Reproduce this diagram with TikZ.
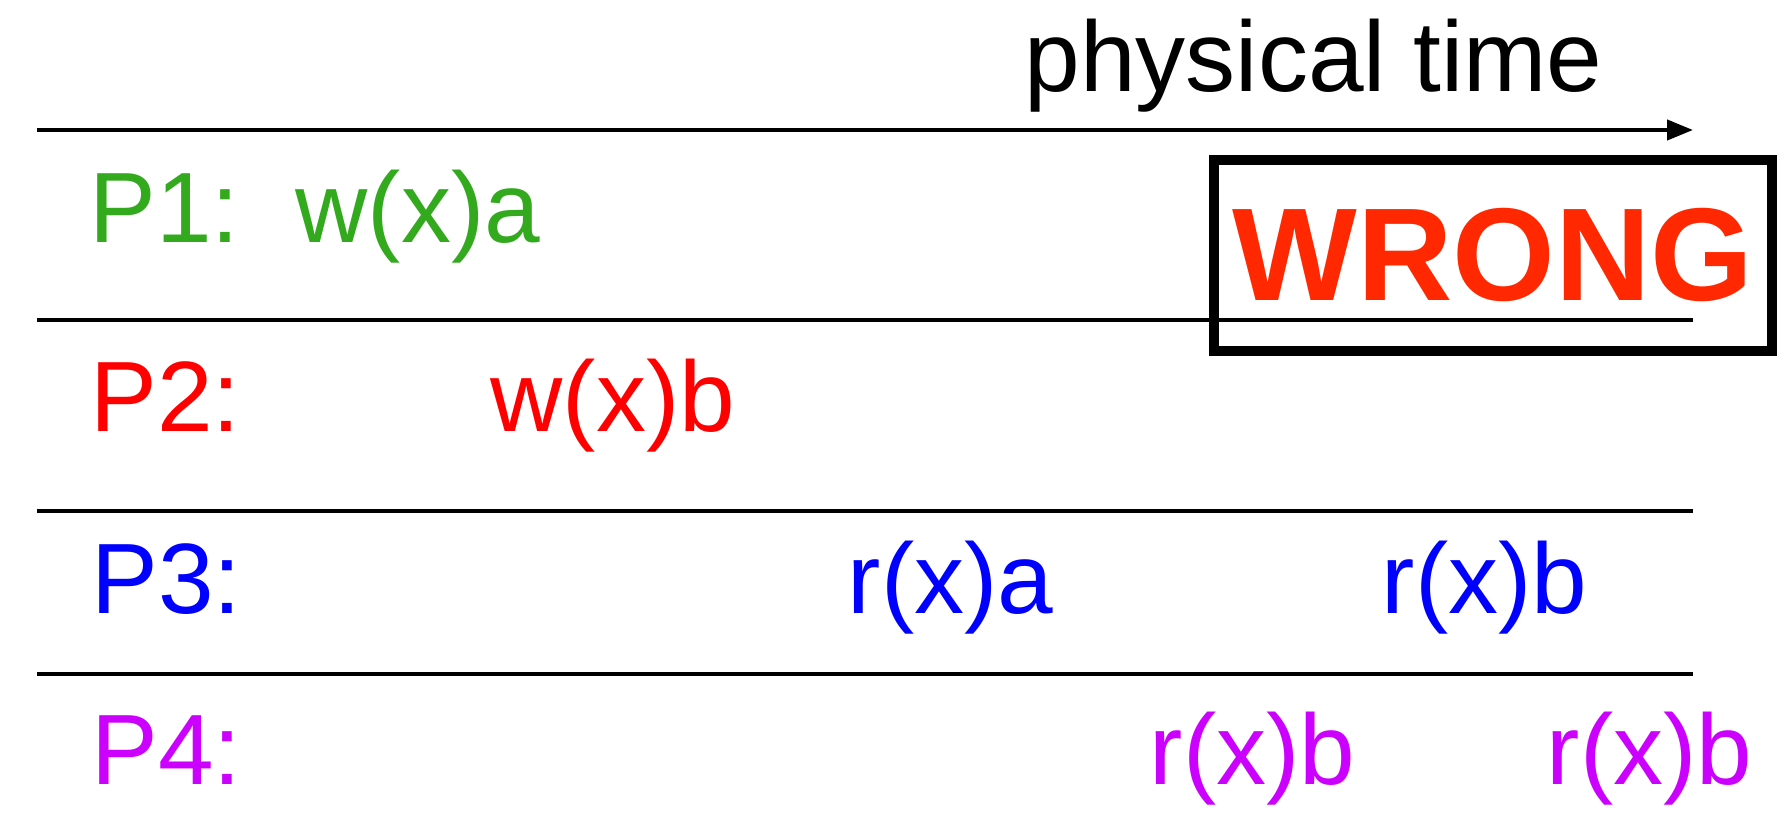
\documentclass[tikz,border=0pt]{standalone}
\usepackage{fontspec}
\setmainfont{Liberation Sans}
\usetikzlibrary{arrows.meta}

\definecolor{pgreen}{RGB}{51,170,30}
\definecolor{pred}{RGB}{255,0,0}
\definecolor{pblue}{RGB}{0,0,255}
\definecolor{ppurple}{RGB}{204,0,255}
\definecolor{wrongred}{RGB}{255,40,0}

\tikzset{
    op/.style={anchor=base west, inner sep=0pt, font=\fontsize{28.45}{34}\selectfont},
    sep/.style={line width=1.2pt}
}

\begin{document}
\begin{tikzpicture}
        \useasboundingbox (0,0) rectangle (17.77,8.28);

        \draw[sep, -{Triangle[length=2.6mm, width=2mm]}] (0.37,6.98) -- (16.93,6.98);
        \draw[sep] (0.37,5.08) -- (16.93,5.08);
        \draw[sep] (0.37,3.17) -- (16.93,3.17);
        \draw[sep] (0.37,1.54) -- (16.93,1.54);

        \node[op] (time) at (10.24,7.36) {physical time};

        \node[op, pgreen] (p1) at (0.89,5.85) {P1:};
        \node[op, pgreen] (p1w) at (2.95,5.85) {w(x)a};

        \node[op, pred] (p2) at (0.90,3.96) {P2:};
        \node[op, pred] (p2w) at (4.90,3.96) {w(x)b};

        \node[op, pblue] (p3) at (0.91,2.15) {P3:};
        \node[op, pblue] (p3ra) at (8.47,2.15) {r(x)a};
        \node[op, pblue] (p3rb) at (13.81,2.15) {r(x)b};

        \node[op, ppurple] (p4) at (0.91,0.43) {P4:};
        \node[op, ppurple] (p4rb) at (11.49,0.43) {r(x)b};
        \node[op, ppurple] (p4rbb) at (15.46,0.43) {r(x)b};

        \node[draw, line width=2.85pt, minimum width=5.58cm, minimum height=1.91cm,
              text=wrongred, font=\fontsize{37.6}{40}\selectfont\bfseries] (wrong) at (14.93,5.725) {WRONG};
    \end{tikzpicture}
\end{document}
